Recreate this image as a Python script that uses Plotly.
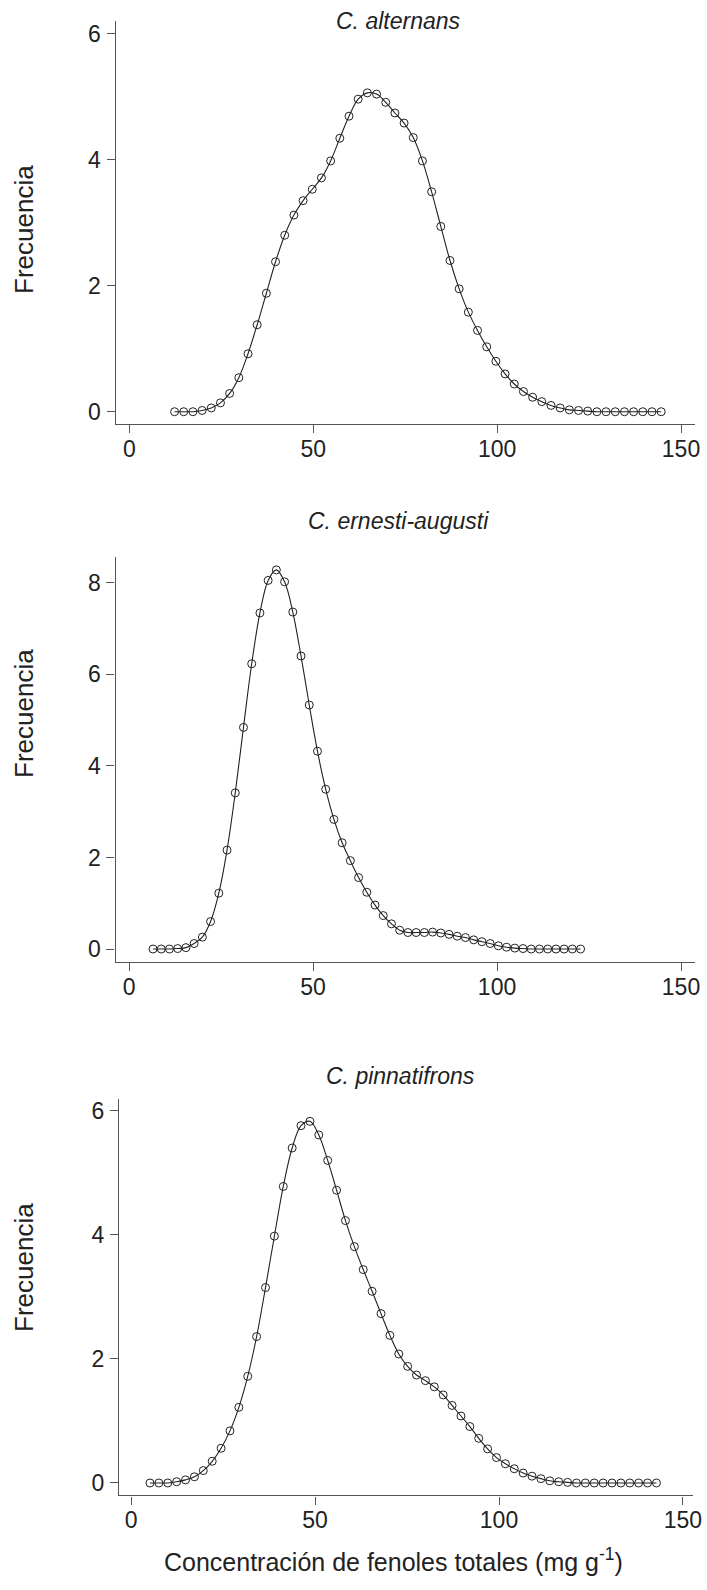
import numpy as np
import plotly.graph_objects as go

W, H = 707, 1590

# ---------------- data ----------------
species = ["C. alternans", "C. ernesti-augusti", "C. pinnatifrons"]

alt_x_start, alt_x_end, alt_n = 12.3, 144.6, 54
alt_y = [0.00, 0.00, 0.00, 0.02, 0.06, 0.14, 0.29, 0.54, 0.92, 1.38,
         1.88, 2.38, 2.80, 3.12, 3.35, 3.53, 3.71, 3.98, 4.34, 4.69,
         4.96, 5.06, 5.04, 4.91, 4.74, 4.58, 4.35, 3.98, 3.49, 2.94,
         2.40, 1.95, 1.58, 1.29, 1.03, 0.80, 0.60, 0.44, 0.32, 0.23,
         0.16, 0.10, 0.06, 0.03, 0.02, 0.01, 0.00, 0.00, 0.00, 0.00,
         0.00, 0.00, 0.00, 0.00]

ern_x_start, ern_x_end, ern_n = 6.5, 122.7, 53
ern_y = [0.00, 0.00, 0.00, 0.01, 0.03, 0.12, 0.26, 0.60, 1.22, 2.16,
         3.41, 4.84, 6.23, 7.34, 8.05, 8.28, 8.02, 7.36, 6.40, 5.33,
         4.32, 3.49, 2.83, 2.32, 1.93, 1.56, 1.24, 0.96, 0.73, 0.55,
         0.41, 0.36, 0.36, 0.36, 0.37, 0.35, 0.32, 0.28, 0.25, 0.20,
         0.16, 0.12, 0.07, 0.04, 0.02, 0.01, 0.00, 0.00, 0.00, 0.00,
         0.00, 0.00, 0.00]

pin_x_start, pin_x_end, pin_n = 5.1, 142.8, 58
pin_y = [0.00, 0.00, 0.00, 0.02, 0.05, 0.10, 0.20, 0.35, 0.56, 0.84,
         1.22, 1.72, 2.36, 3.15, 3.98, 4.78, 5.40, 5.76, 5.83, 5.61,
         5.20, 4.72, 4.23, 3.81, 3.44, 3.09, 2.73, 2.38, 2.08, 1.88,
         1.74, 1.65, 1.55, 1.42, 1.25, 1.08, 0.91, 0.72, 0.55, 0.41,
         0.31, 0.23, 0.16, 0.11, 0.07, 0.035, 0.02, 0.01, 0.00, 0.00,
         0.00, 0.00, 0.00, 0.00, 0.00, 0.00, 0.00, 0.00]

x_ticks = [0, 50, 100, 150]
y_ticks = [[0, 2, 4, 6], [0, 2, 4, 6, 8], [0, 2, 4, 6]]

y_title = "Frecuencia"
x_title = "Concentración de fenoles totales (mg g<sup>-1</sup>)"

# ---------------- layout geometry (pixels) ----------------
panels = [
    dict(x=(alt_x_start, alt_x_end, alt_n), y=alt_y,
         px_l=115.7, px_r=695.0, px_t=21.0, px_b=423.7,
         xr=[-3.70, 153.8], yr=[-0.19, 6.20],
         title_xy=(399, 21), ytitle_y=230),
    dict(x=(ern_x_start, ern_x_end, ern_n), y=ern_y,
         px_l=115.5, px_r=695.0, px_t=557.3, px_b=961.7,
         xr=[-3.70, 153.8], yr=[-0.277, 8.555],
         title_xy=(399, 521), ytitle_y=714),
    dict(x=(pin_x_start, pin_x_end, pin_n), y=pin_y,
         px_l=119.0, px_r=693.2, px_t=1099.0, px_b=1495.4,
         xr=[-3.33, 152.8], yr=[-0.20, 6.19],
         title_xy=(400, 1076), ytitle_y=1268),
]

FONT = "Liberation Sans, Arial, sans-serif"
AX_COL = "#555555"
TXT = "#222222"

fig = go.Figure()
annotations = []

for i, p in enumerate(panels):
    k = "" if i == 0 else str(i + 1)
    xs = np.linspace(*p["x"][:2], p["x"][2])
    fig.add_trace(go.Scatter(
        x=xs, y=p["y"], mode="lines+markers",
        line=dict(color=TXT, width=1.1, shape="spline", smoothing=1.0),
        marker=dict(symbol="circle-open", size=8, color=TXT,
                    line=dict(width=1.0, color=TXT)),
        xaxis="x" + k, yaxis="y" + k, showlegend=False, hoverinfo="skip"))

    xdom = [p["px_l"] / W, p["px_r"] / W]
    ydom = [1 - p["px_b"] / H, 1 - p["px_t"] / H]
    common = dict(showline=True, linecolor=AX_COL, linewidth=1.4,
                  ticks="outside", ticklen=8, tickwidth=1.4, tickcolor=AX_COL,
                  showgrid=False, zeroline=False, fixedrange=True,
                  automargin=False,
                  tickfont=dict(family=FONT, size=23, color=TXT))
    fig.update_layout(**{
        "xaxis" + k: dict(domain=xdom, range=p["xr"], tickvals=x_ticks,
                          anchor="y" + k, ticklabelstandoff=-4, **common),
        "yaxis" + k: dict(domain=ydom, range=p["yr"], tickvals=y_ticks[i],
                          anchor="x" + k, ticklabelstandoff=1, **common),
    })

    tx, ty = p["title_xy"]
    annotations.append(dict(
        text="<i>%s</i>" % species[i], x=tx / W, y=1 - ty / H,
        xref="paper", yref="paper", showarrow=False,
        xanchor="center", yanchor="middle",
        font=dict(family=FONT, size=23, color=TXT)))
    annotations.append(dict(
        text=y_title, x=24 / W, y=1 - p["ytitle_y"] / H,
        xref="paper", yref="paper", showarrow=False, textangle=-90,
        xanchor="center", yanchor="middle",
        font=dict(family=FONT, size=26, color=TXT)))

annotations.append(dict(
    text=x_title, x=393 / W, y=1 - 1560 / H,
    xref="paper", yref="paper", showarrow=False,
    xanchor="center", yanchor="middle",
    font=dict(family=FONT, size=25, color=TXT)))

fig.update_layout(
    template="none",
    width=W, height=H,
    margin=dict(l=0, r=0, t=0, b=0, pad=0),
    paper_bgcolor="white", plot_bgcolor="white",
    annotations=annotations,
)

fig.write_html(
    "out.html",
    config={"displayModeBar": False},
    post_script="document.body.style.margin='0';document.body.style.padding='0';",
)
